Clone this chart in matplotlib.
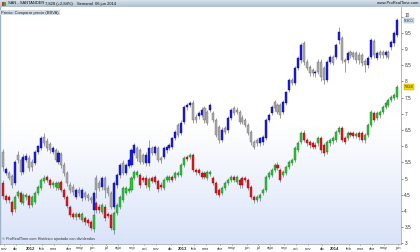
import matplotlib
matplotlib.use("Agg")
import matplotlib.pyplot as plt
import matplotlib.transforms as mtransforms
from matplotlib.colors import LinearSegmentedColormap
from matplotlib.patches import Rectangle
import numpy as np
import pandas as pd

plt.rcParams["font.family"] = ["Liberation Sans", "DejaVu Sans"]

# weekly bars (Friday), Nov 2011 - Jun 2014
weeks = pd.date_range("2011-11-04", "2014-06-06", freq="W-FRI")

# BBVA (compared price, blue / grey candles)
bbva_open = [5.82, 5.17, 5.17, 5.08, 4.86, 5.73, 5.57, 5.20, 5.57, 5.64, 5.51, 5.48, 5.82, 5.94, 6.28, 6.16,
             6.07, 5.82, 5.88, 5.51, 5.76, 5.42, 5.17, 4.80, 4.74, 4.43, 4.65, 4.40, 4.56, 4.49, 4.40, 4.03,
             5.02, 4.86, 4.74, 5.02, 4.71, 4.56, 4.12, 4.80, 5.11, 5.48, 5.17, 5.39, 5.42, 5.79, 5.94, 5.88,
             5.73, 5.48, 5.48, 5.94, 5.79, 5.94, 5.64, 5.67, 5.88, 5.94, 5.97, 6.25, 6.65, 6.41, 6.75, 7.21,
             7.27, 7.33, 6.90, 6.93, 6.96, 7.18, 7.05, 7.12, 7.02, 6.80, 6.59, 6.19, 6.56, 6.50, 6.87, 7.18,
             7.12, 7.05, 6.87, 6.80, 6.65, 6.44, 6.13, 6.19, 6.10, 6.13, 6.25, 6.81, 7.02, 7.36, 7.27, 7.27,
             7.05, 7.33, 7.73, 8.04, 7.95, 8.41, 8.66, 9.18, 8.60, 8.44, 8.35, 8.26, 8.60, 8.60, 8.41, 8.04,
             8.60, 8.75, 8.75, 9.28, 9.34, 8.66, 8.66, 8.91, 8.87, 8.87, 8.81, 8.81, 8.63, 8.50, 8.75, 9.25,
             8.72, 8.91, 8.91, 8.81, 8.91, 9.06, 9.18, 9.43]
bbva_close = [5.35, 5.29, 5.01, 4.80, 5.51, 5.57, 5.20, 5.66, 5.69, 5.32, 5.35, 5.82, 6.00, 6.25, 6.09, 5.94,
              5.88, 5.94, 5.57, 5.79, 5.41, 5.17, 4.86, 4.64, 4.58, 4.64, 4.55, 4.64, 4.43, 4.39, 4.33, 4.55,
              4.64, 4.71, 5.01, 4.64, 4.55, 4.12, 4.86, 5.11, 5.42, 5.17, 5.42, 5.57, 5.88, 6.04, 5.64, 5.51,
              5.51, 5.73, 5.94, 5.79, 5.98, 5.57, 5.57, 5.94, 5.98, 6.04, 6.25, 6.44, 6.35, 6.72, 7.21, 7.27,
              7.33, 6.81, 6.81, 7.02, 7.12, 6.81, 6.72, 7.27, 6.81, 6.35, 6.19, 6.50, 6.44, 6.87, 7.12, 7.02,
              7.06, 6.75, 6.75, 6.65, 6.41, 6.13, 5.98, 6.10, 6.25, 6.28, 6.81, 6.96, 7.21, 7.18, 7.06, 6.96,
              7.36, 7.67, 8.04, 7.95, 8.41, 8.72, 9.12, 8.60, 8.41, 8.26, 8.26, 8.29, 8.29, 8.14, 8.04, 8.60,
              8.75, 8.57, 9.12, 9.52, 8.66, 8.60, 8.88, 8.81, 8.75, 8.66, 8.66, 8.57, 8.51, 8.72, 9.28, 8.81,
              8.88, 8.81, 8.81, 8.91, 8.75, 9.22, 9.49, 9.90]
bbva_high = [5.92, 5.36, 5.25, 5.15, 5.58, 5.85, 5.64, 5.75, 5.78, 5.72, 5.60, 5.88, 6.05, 6.32, 6.42, 6.25,
             6.14, 6.02, 5.95, 5.88, 5.83, 5.50, 5.22, 4.88, 4.82, 4.72, 4.75, 4.70, 4.62, 4.56, 4.45, 4.62,
             5.10, 4.95, 5.08, 5.08, 4.80, 4.62, 4.92, 5.18, 5.48, 5.56, 5.48, 5.64, 5.95, 6.10, 6.00, 5.95,
             5.80, 5.82, 6.19, 6.00, 6.05, 6.00, 5.70, 6.02, 6.05, 6.10, 6.30, 6.50, 6.72, 6.80, 7.28, 7.35,
             7.40, 7.42, 6.98, 7.10, 7.20, 7.25, 7.12, 7.32, 7.10, 6.88, 6.65, 6.58, 6.62, 6.92, 7.18, 7.25,
             7.20, 7.12, 6.95, 6.88, 6.72, 6.50, 6.20, 6.25, 6.30, 6.35, 6.88, 7.02, 7.28, 7.42, 7.35, 7.34,
             7.42, 7.72, 8.10, 8.10, 8.48, 8.78, 9.18, 9.26, 8.68, 8.52, 8.42, 8.35, 8.68, 8.70, 8.48, 8.66,
             8.82, 8.82, 9.18, 9.68, 9.40, 8.72, 8.95, 8.98, 8.95, 8.95, 8.90, 8.88, 8.70, 8.80, 9.35, 9.32,
             8.95, 8.98, 8.98, 8.98, 8.98, 9.28, 9.55, 9.95]
bbva_low = [5.25, 5.10, 4.95, 4.70, 4.80, 5.47, 5.10, 5.15, 5.50, 5.24, 5.22, 5.42, 5.76, 5.88, 6.02, 5.86,
            5.80, 5.75, 5.50, 5.46, 5.32, 5.08, 4.78, 4.55, 4.50, 4.36, 4.47, 4.32, 4.35, 4.30, 4.25, 3.95,
            4.40, 4.62, 4.66, 4.40, 4.45, 4.05, 4.05, 4.72, 5.02, 5.10, 5.12, 5.32, 5.36, 5.72, 5.55, 5.44,
            5.45, 5.40, 5.40, 5.72, 5.72, 5.50, 5.48, 5.60, 5.80, 5.88, 5.90, 6.18, 6.28, 6.35, 6.68, 7.12,
            7.20, 6.72, 6.72, 6.85, 6.90, 6.72, 6.65, 7.05, 6.75, 6.28, 6.10, 6.12, 6.38, 6.42, 6.80, 6.95,
            6.98, 6.68, 6.68, 6.58, 6.35, 6.05, 5.90, 6.00, 6.02, 6.05, 6.18, 6.75, 6.95, 7.10, 7.00, 6.88,
            6.98, 7.26, 7.66, 7.88, 7.88, 8.34, 8.58, 8.52, 8.34, 8.18, 8.18, 8.15, 8.22, 8.00, 7.92, 7.98,
            8.54, 8.50, 8.68, 9.15, 8.58, 8.30, 8.58, 8.72, 8.68, 8.58, 8.55, 8.48, 8.30, 8.42, 8.68, 8.74,
            8.65, 8.74, 8.74, 8.74, 8.68, 8.98, 9.10, 9.38]

# SAN (main instrument, green / red candles)
san_open = [4.86, 4.46, 4.43, 4.28, 4.06, 4.46, 4.56, 4.25, 4.43, 4.46, 4.19, 4.28, 4.56, 4.71, 4.93, 5.05,
            4.96, 4.80, 4.74, 4.71, 4.90, 4.65, 4.43, 4.12, 3.91, 3.81, 3.91, 3.72, 3.78, 3.72, 3.66, 3.44,
            4.25, 4.12, 3.97, 4.12, 3.91, 3.88, 3.41, 3.94, 4.12, 4.34, 4.56, 4.62, 4.65, 5.02, 5.11, 5.11,
            5.02, 5.02, 4.74, 5.02, 5.05, 4.93, 4.80, 4.71, 4.96, 4.96, 5.05, 5.02, 5.11, 5.11, 5.42, 5.67,
            5.67, 5.73, 5.27, 5.27, 5.17, 5.17, 5.02, 5.14, 5.02, 4.86, 4.65, 4.56, 4.71, 4.86, 4.96, 5.05,
            4.90, 4.96, 5.02, 5.02, 4.96, 4.74, 4.43, 4.34, 4.40, 4.56, 4.65, 5.05, 5.11, 5.27, 5.42, 5.27,
            5.11, 5.17, 5.36, 5.48, 5.57, 5.88, 6.13, 6.41, 6.19, 6.13, 6.10, 6.04, 6.10, 6.25, 6.04, 5.82,
            6.10, 6.16, 6.19, 6.44, 6.56, 6.25, 6.25, 6.41, 6.41, 6.31, 6.41, 6.41, 6.19, 6.35, 6.65, 7.02,
            6.87, 6.96, 7.05, 7.21, 7.27, 7.43, 7.49, 7.52]
san_close = [4.46, 4.34, 4.34, 3.97, 4.43, 4.59, 4.28, 4.49, 4.49, 4.19, 4.43, 4.56, 4.74, 4.96, 5.02, 4.96,
             4.80, 4.86, 4.86, 4.86, 4.65, 4.43, 4.15, 3.88, 3.81, 3.91, 3.81, 3.91, 3.66, 3.63, 3.48, 3.88,
             4.03, 4.03, 4.19, 3.78, 3.85, 3.48, 3.94, 4.19, 4.43, 4.71, 4.71, 4.68, 5.02, 5.20, 5.20, 4.80,
             4.96, 4.80, 4.99, 4.93, 4.90, 4.68, 4.74, 4.96, 5.05, 5.05, 4.96, 5.17, 5.17, 5.42, 5.64, 5.61,
             5.73, 5.27, 5.20, 5.17, 5.05, 5.05, 5.20, 5.20, 4.86, 4.56, 4.49, 4.71, 4.86, 4.96, 5.05, 4.96,
             5.05, 4.80, 4.80, 4.96, 4.71, 4.43, 4.34, 4.43, 4.49, 4.65, 5.05, 5.17, 5.27, 5.42, 5.33, 4.96,
             5.20, 5.36, 5.51, 5.57, 5.94, 6.10, 6.41, 6.19, 6.10, 6.04, 5.97, 5.97, 6.25, 5.88, 5.79, 6.13,
             6.19, 6.25, 6.44, 6.56, 6.19, 6.13, 6.41, 6.35, 6.31, 6.38, 6.28, 6.19, 6.35, 6.65, 7.05, 6.81,
             7.02, 7.05, 7.21, 7.33, 7.43, 7.52, 7.58, 7.83]
san_high = [4.95, 4.52, 4.50, 4.35, 4.50, 4.66, 4.62, 4.56, 4.55, 4.52, 4.50, 4.62, 4.80, 5.02, 5.10, 5.12,
            5.02, 4.92, 4.94, 4.93, 4.96, 4.70, 4.50, 4.18, 3.98, 3.98, 3.97, 3.98, 3.85, 3.78, 3.72, 3.95,
            4.32, 4.20, 4.26, 4.20, 3.98, 3.95, 4.00, 4.25, 4.50, 4.78, 4.78, 4.75, 5.08, 5.26, 5.28, 5.18,
            5.08, 5.10, 5.06, 5.08, 5.12, 5.00, 4.88, 5.02, 5.12, 5.12, 5.12, 5.24, 5.22, 5.48, 5.70, 5.74,
            5.80, 5.80, 5.34, 5.33, 5.24, 5.22, 5.28, 5.26, 5.08, 4.92, 4.72, 4.78, 4.92, 5.02, 5.10, 5.12,
            5.12, 5.02, 5.08, 5.08, 5.02, 4.80, 4.50, 4.50, 4.55, 4.72, 5.12, 5.24, 5.33, 5.48, 5.50, 5.34,
            5.26, 5.42, 5.58, 5.64, 6.00, 6.16, 6.48, 6.50, 6.26, 6.20, 6.16, 6.12, 6.32, 6.32, 6.10, 6.20,
            6.25, 6.32, 6.50, 6.64, 6.62, 6.32, 6.48, 6.48, 6.46, 6.45, 6.48, 6.48, 6.42, 6.72, 7.12, 7.10,
            7.08, 7.12, 7.28, 7.40, 7.50, 7.58, 7.65, 7.90]
san_low = [4.38, 4.26, 4.25, 3.88, 3.98, 4.40, 4.20, 4.18, 4.35, 4.10, 4.12, 4.20, 4.50, 4.65, 4.86, 4.88,
           4.72, 4.72, 4.66, 4.64, 4.58, 4.36, 4.08, 3.80, 3.74, 3.72, 3.74, 3.65, 3.58, 3.55, 3.40, 3.36,
           3.95, 3.95, 3.90, 3.70, 3.78, 3.40, 3.28, 3.88, 4.05, 4.28, 4.48, 4.55, 4.58, 4.95, 5.04, 4.72,
           4.88, 4.72, 4.66, 4.85, 4.82, 4.60, 4.66, 4.64, 4.88, 4.88, 4.90, 4.95, 5.04, 5.05, 5.36, 5.55,
           5.60, 5.20, 5.12, 5.10, 4.98, 4.98, 4.95, 5.08, 4.80, 4.48, 4.42, 4.50, 4.65, 4.80, 4.90, 4.90,
           4.84, 4.72, 4.72, 4.88, 4.64, 4.36, 4.26, 4.28, 4.32, 4.50, 4.58, 4.98, 5.05, 5.20, 5.26, 4.88,
           5.04, 5.10, 5.30, 5.42, 5.50, 5.82, 6.06, 6.12, 6.02, 5.96, 5.90, 5.90, 6.02, 5.80, 5.70, 5.75,
           6.02, 6.08, 6.12, 6.38, 6.12, 6.06, 6.18, 6.28, 6.24, 6.24, 6.20, 6.12, 6.10, 6.28, 6.58, 6.74,
           6.80, 6.88, 6.98, 7.14, 7.20, 7.36, 7.42, 7.46]

month_abbr = ["ene", "feb", "mar", "abr", "may", "jun", "jul", "ago", "sep", "oct", "nov", "dic"]
y_ticks = [3, 3.5, 4, 4.5, 5, 5.5, 6, 6.5, 7, 7.5, 8, 8.5, 9, 9.5, 10]

# colours
C_BLUE, C_BLUE_E = "#1a1aee", "#0c0c80"
C_GREY, C_GREY_E = "#ababab", "#6e6e6e"
C_GREEN, C_GREEN_E = "#2cc43c", "#17801f"
C_RED, C_RED_E = "#e8161c", "#8e0c10"
C_WICK = "#787878"

W, H = 420, 252
fig = plt.figure(figsize=(W / 100, H / 100), dpi=100)
fig.patch.set_facecolor("white")

# main price panel
ax = fig.add_axes([0, 8 / H, 401 / W, 237 / H])
x = np.arange(len(weeks))
xlim = (-1.03, 136.3)
ylim = (2.98, 10.30)
ax.set_xlim(*xlim)
ax.set_ylim(*ylim)

bg = LinearSegmentedColormap.from_list("bg", ["#ffffff", "#ffffff", "#d9e3f9"])
ax.imshow(np.linspace(0, 1, 256).reshape(-1, 1), extent=[*xlim, *ylim], aspect="auto",
          cmap=bg, origin="upper", zorder=0)


def draw_candles(o, h, l, c, up, up_e, dn, dn_e):
    o, h, l, c = map(np.asarray, (o, h, l, c))
    ax.vlines(x, l, h, color=C_WICK, lw=0.5, zorder=2)
    rising = c >= o
    bottom = np.minimum(o, c)
    height = np.maximum(np.abs(c - o), 0.02)
    ax.bar(x, height, bottom=bottom, width=0.7,
           color=np.where(rising, up, dn), edgecolor=np.where(rising, up_e, dn_e),
           linewidth=0.3, zorder=3)


draw_candles(bbva_open, bbva_high, bbva_low, bbva_close, C_BLUE, C_BLUE_E, C_GREY, C_GREY_E)
draw_candles(san_open, san_high, san_low, san_close, C_GREEN, C_GREEN_E, C_RED, C_RED_E)

# axes styling
ax.spines["top"].set_visible(False)
ax.spines["left"].set_color("#9fb3c6")
ax.spines["left"].set_linewidth(1.0)
ax.spines["right"].set_color("#9a9a9a")
ax.spines["right"].set_linewidth(0.5)
ax.spines["bottom"].set_color("#9a9a9a")
ax.spines["bottom"].set_linewidth(0.5)

ax.yaxis.tick_right()
ax.set_yticks(y_ticks)
ax.set_yticklabels([f"{v:g}" for v in y_ticks])
ax.tick_params(axis="y", labelsize=3.4, colors="#333333", length=1.2, width=0.4, pad=1.2)
# top label sits just above the last-price box
top_lab = ax.get_yticklabels()[-1]
top_lab.set_transform(top_lab.get_transform() +
                      mtransforms.ScaledTranslation(0, 2.2 / 100, fig.dpi_scale_trans))

# month ticks at first bar of each month
tick_pos, tick_lab, tick_bold = [], [], []
prev = None
for i, d in enumerate(weeks):
    if d.month != prev:
        tick_pos.append(i + 0.4)
        if d.month == 1:
            tick_lab.append(str(d.year))
            tick_bold.append(True)
        else:
            tick_lab.append(month_abbr[d.month - 1])
            tick_bold.append(False)
        prev = d.month
ax.set_xticks(tick_pos)
ax.set_xticklabels(tick_lab)
ax.tick_params(axis="x", labelsize=3.1, colors="#333333", length=1.0, width=0.4, pad=0.8)
for lab, b in zip(ax.get_xticklabels(), tick_bold):
    if b:
        lab.set_fontweight("bold")

# price boxes on the right scale
ax.text(1.008, (bbva_close[-1] - ylim[0]) / (ylim[1] - ylim[0]) - 0.004, f"{bbva_close[-1]:.3f}",
        transform=ax.transAxes, fontsize=2.8, color="#222222", ha="left", va="center",
        bbox=dict(boxstyle="square,pad=0.15", facecolor="#dbe5f0", edgecolor="#8ea4bc", linewidth=0.3),
        zorder=5, clip_on=False)
ax.text(1.008, (san_close[-1] - ylim[0]) / (ylim[1] - ylim[0]), "7.828",
        transform=ax.transAxes, fontsize=2.8, color="#222222", ha="left", va="center",
        bbox=dict(boxstyle="square,pad=0.15", facecolor="#f2d600", edgecolor="#c9a800", linewidth=0.3),
        zorder=5, clip_on=False)

# overlay labels inside the panel
ax.text(0.003, 0.985, "Precio: Comparar precio (BBVA)", transform=ax.transAxes, fontsize=2.9,
        color="#222222", ha="left", va="top",
        bbox=dict(boxstyle="square,pad=0.2", facecolor="#d3dde8", edgecolor="none"), zorder=6)
ax.text(0.005, 0.012, "\u00a9 ProRealTime.com Hist\u00f3rico ajustado con dividendos", transform=ax.transAxes,
        fontsize=2.8, color="#333333", ha="left", va="bottom", zorder=6)

# header strip
hdr = fig.add_axes([0, 245 / H, 1, 7 / H])
hdr.set_xlim(0, W)
hdr.set_ylim(0, 7)
hdr.axis("off")
hdr_cmap = LinearSegmentedColormap.from_list("hdr", ["#d6e2ec", "#aebfcd"])
hdr.imshow(np.linspace(0, 1, 64).reshape(-1, 1), extent=[0, W, 0, 7], aspect="auto",
           cmap=hdr_cmap, origin="upper", zorder=0)
hdr.add_patch(Rectangle((1.5, 1.5), 2.2, 4, facecolor="#d83030", edgecolor="none", zorder=2))
hdr.add_patch(Rectangle((3.7, 1.5), 2.2, 4, facecolor="#3cae3c", edgecolor="none", zorder=2))
hdr.text(8, 3.5, "SAN - SANTANDER", fontsize=2.9, color="#111111", va="center", ha="left")
hdr.text(45, 3.5, "7,828 (+2,84%)", fontsize=2.9, color="#111111", va="center", ha="left")
hdr.text(77, 3.5, "Semanal  06 jun 2014", fontsize=2.9, color="#111111", va="center", ha="left")
hdr.text(418, 3.5, "www.ProRealTime.com", fontsize=2.9, color="#111111", va="center", ha="right")

fig.savefig("out.png", dpi=100, facecolor="white")
